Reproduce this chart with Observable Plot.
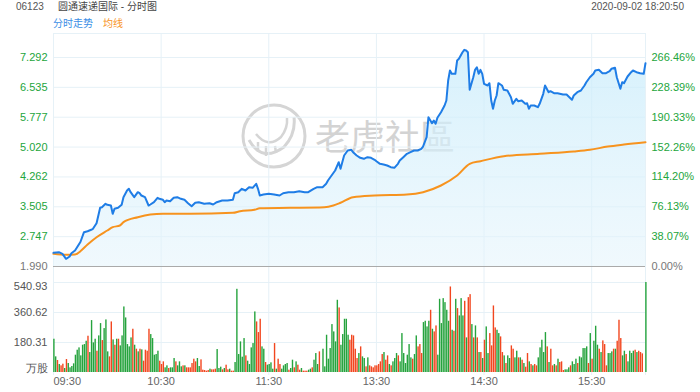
<!DOCTYPE html>
<html><head><meta charset="utf-8">
<script src="https://cdn.jsdelivr.net/npm/d3@7"></script>
<script src="https://cdn.jsdelivr.net/npm/@observablehq/plot@0.6"></script>
<style>
body{margin:0;background:#fff;font-family:"Liberation Sans",Arial,"Noto Sans CJK SC",sans-serif;}
#wrap{position:relative;width:700px;height:392px;overflow:hidden;background:#fff;}
.t{position:absolute;font-size:10px;line-height:12px;white-space:nowrap;font-family:"Liberation Sans",Arial,"Noto Sans CJK SC",sans-serif;}
</style></head><body>
<div id="wrap">
  <div class="t" style="left:16px;top:1px;color:#555">06123</div>
  <div class="t" style="left:58px;top:1px;color:#444">圆通速递国际 - 分时图</div>
  <div class="t" style="right:16px;top:1px;color:#555">2020-09-02 18:20:50</div>
  <div class="t" style="left:53px;top:18px;color:#3a8ee6">分时走势</div>
  <div class="t" style="left:103px;top:18px;color:#f7931e">均线</div>
  <svg style="position:absolute;left:0;top:0" width="700" height="392">
    <circle cx="274" cy="136" r="31" fill="none" stroke="#d5d5d5" stroke-width="3"/>
    <path d="M249,140 Q262,163 284,147 Q296,134 294,117" fill="none" stroke="#d5d5d5" stroke-width="3"/>
    <path d="M256,134 Q268,149 281,137 Q288,128 287,118" fill="none" stroke="#d5d5d5" stroke-width="2.5"/>
    <path d="M258,142 L258,152 M266,146 L266,156 M275,146 L276,153" fill="none" stroke="#d5d5d5" stroke-width="2.5"/>
    <text x="315" y="150" font-size="35" fill="#d3d3d3" font-family="Noto Sans CJK SC">老虎社區</text>
  </svg>
  <div id="price" style="position:absolute;left:0;top:33px"></div>
  <div id="vol" style="position:absolute;left:0;top:276px"></div>
</div>
<script>
// ---- tick labels ----
const priceTicks = [1.990, 2.747, 3.505, 4.262, 5.020, 5.777, 6.535, 7.292];
const pctLabels  = ["0.00%","38.07%","76.13%","114.20%","152.26%","190.33%","228.39%","266.46%"];
const timeTicks  = [0, 60, 120, 180, 240, 300];           // trading-minute index
const timeLabels = ["09:30","10:30","11:30","13:30","14:30","15:30"];
const volTicks   = [0, 180.31, 360.62, 540.93];
const volLabels  = ["万股","180.31","360.62","540.93"];

// ---- price line (trading minute, price) ----
const priceMinute = [0,3,5,7,9,10,12,15,17,19,21,22,24,26,27,29,30,32,33,34,36,38,39,41,42,43,45,47,48,49,51,53,54,56,58,59,61,62,63,65,67,69,71,73,75,77,79,81,84,87,89,91,94,97,100,101,103,105,107,109,111,113,114,115,117,120,123,126,128,131,134,137,140,142,145,147,150,152,153,155,157,159,160,162,164,166,167,169,171,173,175,177,179,180,182,184,186,188,190,192,193,195,197,199,201,203,205,206,208,209,211,212,213,214,216,218,219,220,221,222,224,225,226,228,229,230,231,232,234,235,236,237,238,239,240,242,243,244,245,246,247,248,250,251,253,255,256,258,259,261,263,264,265,266,268,270,271,273,274,276,277,279,281,284,286,289,290,292,294,296,297,299,301,302,304,306,308,310,311,313,314,316,317,318,320,322,323,325,327,329,330];
const priceValue = [2.338,2.353,2.312,2.185,2.244,2.327,2.396,2.612,2.860,2.885,2.921,2.946,3.088,3.482,3.494,3.581,3.555,3.537,3.327,3.454,3.479,3.555,3.748,3.918,3.961,3.875,3.748,3.875,3.849,3.791,3.748,3.537,3.563,3.621,3.733,3.707,3.682,3.621,3.664,3.647,3.733,3.748,3.707,3.682,3.596,3.520,3.606,3.621,3.581,3.596,3.563,3.621,3.664,3.664,3.682,3.849,3.875,3.961,3.918,4.002,3.986,4.088,3.961,3.791,3.816,3.834,3.816,3.791,3.849,3.875,3.875,3.900,3.875,3.875,3.961,4.002,4.002,4.088,4.172,4.298,4.425,4.636,4.468,4.806,4.933,4.950,4.890,4.806,4.747,4.722,4.763,4.747,4.697,4.661,4.595,4.578,4.552,4.509,4.494,4.595,4.679,4.763,4.849,4.890,4.933,4.933,4.976,5.034,5.270,5.777,5.625,5.694,5.610,5.762,5.904,6.074,6.201,6.708,6.962,6.878,6.878,7.216,7.259,7.426,7.487,7.470,7.426,6.473,6.792,6.980,7.046,6.878,6.980,6.878,6.625,6.582,6.640,6.201,5.991,6.201,6.328,6.640,6.582,6.473,6.455,6.285,6.117,6.244,6.183,6.201,6.117,6.133,5.991,6.074,6.074,6.031,6.117,6.371,6.582,6.412,6.437,6.386,6.386,6.353,6.353,6.219,6.328,6.412,6.455,6.582,6.665,6.792,6.878,6.962,6.980,6.894,6.894,6.944,7.005,7.031,6.792,6.498,6.665,6.640,6.810,6.919,6.962,6.919,6.894,6.878,7.148];

// ---- average line ----
const avgMinute = [0,7,12,15,19,24,30,33,37,39,47,54,61,76,100,104,112,115,132,151,156,160,167,179,197,206,216,225,232,238,251,271,290,299,309,318,330];
const avgValue  = [2.312,2.287,2.294,2.378,2.548,2.733,2.903,2.987,3.030,3.114,3.241,3.309,3.327,3.327,3.352,3.393,3.428,3.469,3.479,3.494,3.537,3.606,3.748,3.791,3.816,3.875,4.045,4.298,4.595,4.661,4.788,4.849,4.907,4.950,5.034,5.085,5.143];

// ---- volume per minute (万股) and direction r=up(red) g=down(green) ----
const volume = [
200,94,72,48,40,50,24,78,54,28,36,52,104,134,148,100,164,168,188,218,
120,312,178,200,128,220,294,192,264,316,124,94,304,196,164,200,200,160,220,394,
328,168,154,208,260,164,140,124,140,136,68,134,128,260,228,204,104,108,128,68,
48,64,28,40,24,28,28,84,64,40,64,34,40,40,28,28,28,54,80,64,
84,36,76,14,12,8,12,20,16,16,20,138,24,32,16,24,44,16,20,8,
8,60,500,108,184,92,204,100,68,48,148,
174,364,304,240,320,154,140,60,44,48,58,20,174,20,80,48,20,40,48,54,
14,24,74,28,64,44,14,24,8,8,8,14,20,28,74,114,48,124,0,140,
34,224,80,144,288,244,184,434,388,164,228,320,320,224,194,224,220,140,84,114,
154,94,84,34,88,40,34,28,40,40,48,64,108,120,74,100,48,40,64,84,
114,100,64,234,114,54,104,168,88,80,108,220,154,168,114,300,308,274,308,374,
260,244,280,104,440,294,444,420,374,
308,514,254,248,440,384,340,444,340,428,208,450,468,288,208,280,208,120,120,84,
194,274,114,234,160,400,268,254,234,214,120,100,54,100,84,160,140,88,128,88,
88,74,54,32,114,64,48,40,48,40,88,148,194,120,240,154,60,140,40,48,
40,80,60,64,12,16,16,28,40,64,48,80,54,94,88,144,144,154,54,234,
80,188,278,164,140,120,190,168,40,114,114,124,140,140,188,314,204,100,128,108,
64,128,114,128,134,120,128,120,112,0,540.93];
const volumeDir = (
"ggrgrrgrgggggggggggrggggrggrgggrrgrgrgggggggrgrgrgrrrrgggggrrrggrgggrgggrgrrrrrrggrrrrrgrrrgggrgrrgrrggggggrggg" +
"ggrrrggrggggrgrrggggrggrgrrgrrrggrgggrrgggggggggrgggggrrrrrgrggrgrrrrrrrrgrrgrgggrgggggggrggrrrggggrgrrgggggg" +
"grgrgrgggrgrrgrgrgrgrggrrrrggrrgrggrrggrgrgrrgrgrrgggggrgrrgrgrrrgggrgggrgggggrgrgggrgrrrgggrgrrrggrggggrgrrrgg"
).split("");

const GRID = "#e6f1f7", GREEN_T = "#23a53c", GRAY_T = "#777";
const FONT = "'Liberation Sans', Arial, sans-serif";

const priceData = priceMinute.map((m, i) => ({m, p: priceValue[i]}));
const avgData = avgMinute.map((m, i) => ({m, p: avgValue[i]}));
const volData = volume.map((v, i) => ({m: i, v, c: volumeDir[i] === "r" ? "#f2461f" : "#25a33d"}));

const gradDefs = () => {
  const defs = document.createElementNS("http://www.w3.org/2000/svg", "defs");
  defs.innerHTML = '<linearGradient id="pg" x1="0" y1="0" x2="0" y2="1">' +
    '<stop offset="0" stop-color="#c9ecfb" stop-opacity="0.75"/>' +
    '<stop offset="1" stop-color="#e4f4fc" stop-opacity="0.55"/></linearGradient>';
  return defs;
};
const yTop = 7.901;
const ax = {tickSize: 0, tickPadding: 6, label: null};
const pricePlot = Plot.plot({
  width: 700, height: 243, marginLeft: 53, marginRight: 55, marginTop: 0, marginBottom: 10,
  x: {domain: [0, 330], axis: null},
  y: {domain: [priceTicks[0], yTop], axis: null},
  style: {background: "transparent", fontFamily: FONT, fontSize: "11px", overflow: "visible"},
  marks: [
    gradDefs,
    Plot.ruleY(priceTicks.slice(1), {stroke: GRID}),
    Plot.ruleY([yTop], {stroke: GRID}),
    Plot.ruleX([0, ...timeTicks.slice(1), 330], {stroke: GRID, insetBottom: -10}),
    Plot.areaY(priceData, {x: "m", y1: priceTicks[0], y2: "p", fill: "url(#pg)"}),
    Plot.ruleY([priceTicks[0]], {stroke: "#aaa"}),
    Plot.line(avgData, {x: "m", y: "p", stroke: "#f7931e", strokeWidth: 2, curve: "monotone-x"}),
    Plot.line(priceData, {x: "m", y: "p", stroke: "#1f7de6", strokeWidth: 2}),
    Plot.axisY(priceTicks.slice(1), {...ax, anchor: "left", color: GREEN_T, tickFormat: d => d.toFixed(3)}),
    Plot.axisY([priceTicks[0]], {...ax, anchor: "left", color: GRAY_T, tickFormat: d => d.toFixed(3)}),
    Plot.axisY(priceTicks.slice(1), {...ax, anchor: "right", color: GREEN_T, tickFormat: d => pctLabels[priceTicks.indexOf(d)]}),
    Plot.axisY([priceTicks[0]], {...ax, anchor: "right", color: GRAY_T, tickFormat: d => pctLabels[priceTicks.indexOf(d)]})
  ]
});
document.getElementById("price").appendChild(pricePlot);

const vmax = volTicks[3];
const volPlot = Plot.plot({
  width: 700, height: 116, marginLeft: 53, marginRight: 55, marginTop: 6, marginBottom: 20,
  x: {domain: [0, 330], axis: null},
  y: {domain: [0, vmax], axis: null},
  color: {type: "identity"},
  style: {background: "transparent", fontFamily: FONT, fontSize: "11px", overflow: "visible"},
  marks: [
    Plot.ruleY(volTicks.slice(1), {stroke: GRID}),
    Plot.ruleX([0, ...timeTicks.slice(1), 330], {stroke: GRID, insetTop: -6, insetBottom: -3}),
    Plot.rect(volData, {x1: "m", x2: d => d.m + 1, y1: 0, y2: "v", fill: "c", insetLeft: 0.2, insetRight: 0.2}),
    Plot.axisY(volTicks.slice(1, 3), {...ax, anchor: "left", color: "#555", tickFormat: d => volLabels[volTicks.indexOf(d)]}),
    Plot.axisY([volTicks[3]], {...ax, anchor: "left", color: "#555", dy: 4, tickFormat: d => volLabels[volTicks.indexOf(d)]}),
    Plot.axisY([volTicks[0]], {...ax, anchor: "left", color: "#555", dy: -4, tickFormat: d => volLabels[volTicks.indexOf(d)]}),
    Plot.axisX(timeTicks.slice(1), {...ax, tickPadding: 5, color: "#666", tickFormat: d => timeLabels[timeTicks.indexOf(d)]}),
    Plot.axisX([timeTicks[0]], {...ax, tickPadding: 5, color: "#666", textAnchor: "start", tickFormat: d => timeLabels[timeTicks.indexOf(d)]})
  ]
});
document.getElementById("vol").appendChild(volPlot);
</script>
</body></html>
